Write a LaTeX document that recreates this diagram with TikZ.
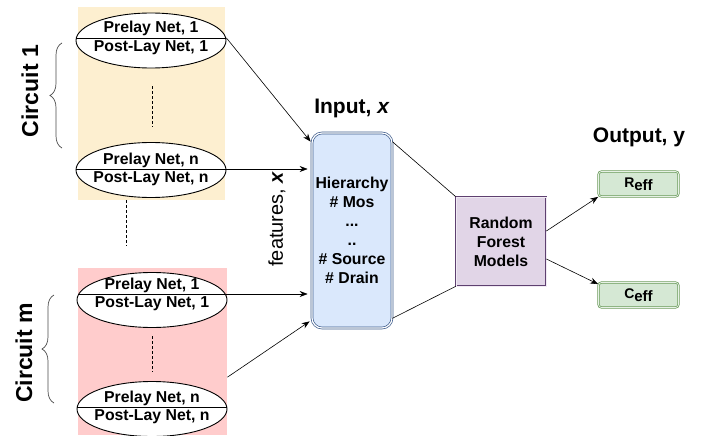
\documentclass[tikz,border=0pt]{standalone}
\usepackage{fontspec}
\setmainfont{Liberation Sans}
\usetikzlibrary{arrows.meta,decorations.pathreplacing,shapes.geometric}
\definecolor{bgyellow}{HTML}{FDEFD0}
\definecolor{bgpink}{HTML}{FFCCCC}
\definecolor{inpfill}{HTML}{DAE8FC}
\definecolor{inpdraw}{HTML}{3E5C8C}
\definecolor{rffill}{HTML}{E1D5E7}
\definecolor{rfdraw}{HTML}{5E4070}
\definecolor{outfill}{HTML}{D5E8D4}
\definecolor{outdraw}{HTML}{6A9A5A}
\begin{document}
\begin{tikzpicture}[x=1pt,y=-1pt,
  netell/.style={ellipse, draw, fill=white, line width=0.9pt, minimum width=150pt, minimum height=55pt, inner sep=0pt},
  nettxt/.style={font=\fontsize{15.8}{18}\selectfont\bfseries, inner sep=0pt},
  arr/.style={-{Stealth[length=8pt,width=6pt]}, line width=0.6pt},
  conn/.style={line width=0.6pt},
  dashln/.style={dashed, dash pattern=on 3pt off 2pt, line width=0.6pt},
  circlbl/.style={rotate=90, font=\fontsize{23}{26}\selectfont\bfseries},
  brc/.style={decorate, decoration={brace, amplitude=12pt}, draw=black!70, line width=0.7pt},
  bigt/.style={font=\fontsize{21}{24}\selectfont\bfseries},
  outbox/.style={draw=outdraw, double=outfill!60, double distance=0.8pt, line width=0.7pt, fill=outfill, rounded corners=3pt, minimum width=80pt, minimum height=25pt, inner sep=0pt}
]
\useasboundingbox (0,0) rectangle (712,436);
\fill[white] (0,0) rectangle (712,436);

% background panels
\node[fill=bgyellow, minimum width=147pt, minimum height=193pt, inner sep=0pt, anchor=north west] (c1bg) at (78,7) {};
\node[fill=bgpink, minimum width=149pt, minimum height=167pt, inner sep=0pt, anchor=north west] (cmbg) at (78,268) {};

% ellipses circuit 1
\node[netell] (e1) at (151,40.5) {};
\draw[line width=0.9pt] ([yshift=2.5pt]e1.west) -- ([yshift=2.5pt]e1.east);
\node[nettxt] (e1a) at (151,28) {Prelay Net, 1};
\node[nettxt] (e1b) at (151,48) {Post-Lay Net, 1};

\node[netell] (en) at (151,170) {};
\draw[line width=0.9pt] ([yshift=1pt]en.west) -- ([yshift=1pt]en.east);
\node[nettxt] (ena) at (151,160) {Prelay Net, n};
\node[nettxt] (enb) at (151,179) {Post-Lay Net, n};

% ellipses circuit m
\node[netell] (em1) at (152,300) {};
\draw[line width=0.9pt] ([xshift=1.8pt,yshift=6pt]em1.west) -- ([xshift=-1.8pt,yshift=6pt]em1.east);
\node[nettxt] (em1a) at (152,285) {Prelay Net, 1};
\node[nettxt] (em1b) at (152,304) {Post-Lay Net, 1};

\node[netell] (emn) at (152,409) {};
\draw[line width=0.9pt] ([yshift=2pt]emn.west) -- ([yshift=2pt]emn.east);
\node[nettxt] (emna) at (152,398) {Prelay Net, n};
\node[nettxt] (emnb) at (152,417) {Post-Lay Net, n};

% dashed continuation lines
\coordinate (d1a) at (152,86); \coordinate (d1b) at (152,127);
\draw[dashln] (d1a) -- (d1b);
\coordinate (d2a) at (126,200); \coordinate (d2b) at (126,246);
\draw[dashln] (d2a) -- (d2b);
\coordinate (d3a) at (152,336); \coordinate (d3b) at (152,372);
\draw[dashln] (d3a) -- (d3b);

% braces and circuit labels
\coordinate (b1s) at (62,148); \coordinate (b1e) at (62,43);
\draw[brc] (b1s) -- (b1e);
\node[circlbl] (c1) at (30,91) {Circuit 1};
\coordinate (bms) at (54,403); \coordinate (bme) at (54,295);
\draw[brc] (bms) -- (bme);
\node[circlbl] (cm) at (24,353) {Circuit m};

% input box
\node[draw=inpdraw, double=white, double distance=1.2pt, line width=0.7pt, fill=inpfill, rounded corners=10pt,
      minimum width=80pt, minimum height=195pt, inner sep=0pt,
      align=center, font=\fontsize{15.8}{19}\selectfont\bfseries] (inp) at (352,230.5)
  {Hierarchy\\\# Mos\\...\\..\\\# Source\\\# Drain};
\node[bigt] (inlbl) at (352,108) {Input, \textit{x}};
\node[rotate=90, font=\fontsize{20}{24}\selectfont] (feat) at (277,219) {features, \textbf{\textit{x}}};

% arrows into input
\draw[arr] ([yshift=2.5pt]e1.east) -- ([xshift=-1pt,yshift=-9pt]inp.north west);
\coordinate (enr) at ([yshift=1pt]en.east);
\draw[arr, shorten >=4pt] (enr) -- (enr -| inp.west);
\coordinate (em1r) at ([xshift=-1.8pt,yshift=6pt]em1.east);
\draw[arr, shorten >=4pt] (em1r) -- (em1r -| inp.west);
\draw[arr] ([yshift=-25.5pt]cmbg.east) -- ([xshift=-2pt,yshift=7pt]inp.south west);

% random forest
\node[draw=rfdraw, double=rffill!50, double distance=0.8pt, line width=0.8pt, fill=rffill,
      minimum width=90pt, minimum height=89pt, inner sep=0pt, align=center,
      font=\fontsize{15.8}{19}\selectfont\bfseries] (rf) at (501,241.5) {Random\\Forest\\Models};
\draw[conn] ([yshift=-9pt]inp.north east) -- (rf.north west);
\draw[conn] ([yshift=10pt]inp.south east) -- (rf.south west);

% outputs
\node[outbox] (reff) at (638.5,184) {\fontsize{14}{16}\selectfont\bfseries R\raisebox{-3pt}{\fontsize{15}{16}\selectfont eff}};
\node[outbox] (ceff) at (638.5,295) {\fontsize{14}{16}\selectfont\bfseries C\raisebox{-3pt}{\fontsize{15}{16}\selectfont eff}};
\node[bigt] (outlbl) at (639,137) {Output, y};
\draw[arr] ([yshift=10.5pt]rf.east) -- (reff.south west);
\draw[arr] ([yshift=-17.5pt]rf.east) -- ([yshift=-2pt]ceff.north west);
\end{tikzpicture}
\end{document}
